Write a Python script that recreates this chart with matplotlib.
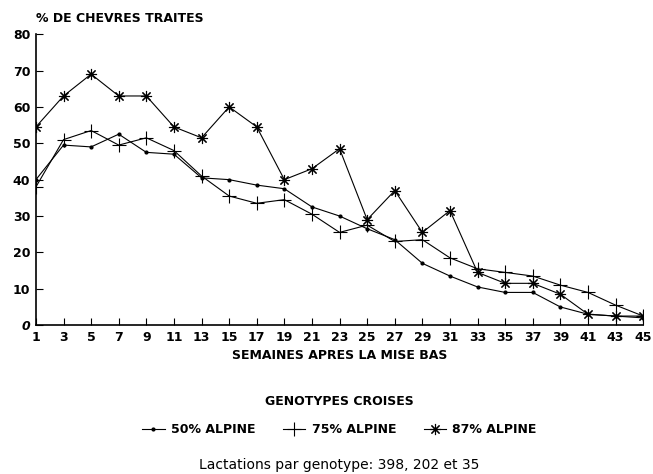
import numpy as np
import matplotlib
matplotlib.use('Agg')
from matplotlib import pyplot as plt

plt.rcParams['font.family'] = ['DejaVu Sans']

weeks = list(range(1, 46, 2))

# % de chevres traites par genotype
alpine50 = [40, 49.5, 49, 52.5, 47.5, 47, 40.5, 40, 38.5, 37.5, 32.5, 30,
            26.5, 23.5, 17, 13.5, 10.5, 9, 9, 5, 3, 2.5, 2]
alpine75 = [38, 51, 53.5, 49.5, 51.5, 48, 41, 35.5, 33.5, 34.5, 30.5, 25.5,
            27.5, 23, 23.5, 18.5, 15.5, 14.5, 13.5, 11, 9, 5.5, 2.5]
alpine87 = [54.5, 63, 69, 63, 63, 54.5, 51.5, 60, 54.5, 40, 43, 48.5,
            29, 37, 25.5, 31.5, 14.5, 11.5, 11.5, 8.5, 3, 2.5, 2.5]

labels = ['50% ALPINE', '75% ALPINE', '87% ALPINE']

fig = plt.figure(figsize=(6.53, 4.74), dpi=100)
ax = fig.add_axes([0.055, 0.314, 0.93, 0.614])

ax.plot(weeks, alpine50, color='black', lw=0.8, marker='.', ms=4, label=labels[0])
ax.plot(weeks, alpine75, color='black', lw=0.8, marker='+', ms=10, mew=0.8, label=labels[1])
ax.plot(weeks, alpine87, color='black', lw=0.8, marker=(8, 2, 0), ms=8, mew=0.8, label=labels[2])

ax.set_xlim(1, 45)
ax.set_ylim(0, 80)
ax.set_xticks(weeks)
ax.set_yticks(range(0, 81, 10))
ax.set_yticklabels(['0'] + [str(v) for v in range(10, 81, 10)])
ax.spines['top'].set_visible(False)
ax.spines['right'].set_visible(False)
ax.spines['left'].set_linewidth(1.2)
ax.spines['bottom'].set_linewidth(1.2)
ax.tick_params(axis='both', direction='in', length=5, width=0.8, labelsize=9)
ax.tick_params(axis='x', pad=4)
ax.tick_params(axis='y', pad=4)
for t in ax.get_xticklabels() + ax.get_yticklabels():
    t.set_fontweight('bold')
ax.get_yticklabels()[0].set_style('italic')

fig.text(0.055, 0.962, '% DE CHEVRES TRAITES', fontsize=9, fontweight='bold',
         ha='left', va='center')
fig.text(0.52, 0.25, 'SEMAINES APRES LA MISE BAS', fontsize=9, fontweight='bold',
         ha='center', va='center')
fig.text(0.52, 0.152, 'GENOTYPES CROISES', fontsize=9, fontweight='bold',
         ha='center', va='center')

leg = fig.legend(loc='center', bbox_to_anchor=(0.52, 0.093), ncol=3, frameon=False,
                 fontsize=9, handlelength=1.8, handletextpad=0.5, columnspacing=2.2)
for t in leg.get_texts():
    t.set_fontweight('bold')

fig.text(0.52, 0.018, 'Lactations par genotype: 398, 202 et 35', fontsize=10,
         ha='center', va='center')

fig.savefig('out.png', dpi=100)
